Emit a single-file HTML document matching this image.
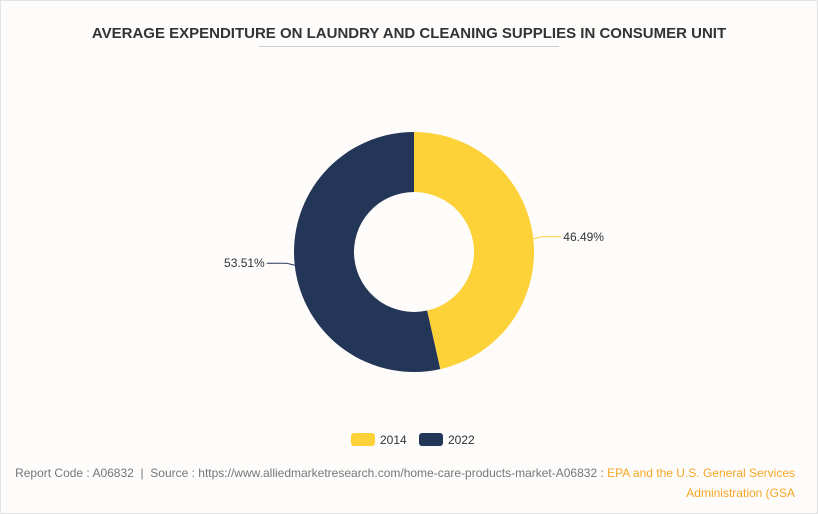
<!DOCTYPE html>
<html><head><meta charset="utf-8"><style>
body{margin:0;background:#fff;}
#wrap{position:relative;width:816px;height:512px;border:1px solid #e3e3e3;background:#fdfcfb;font-family:"Liberation Sans",sans-serif;overflow:hidden}
#title{position:absolute;top:24px;left:0;width:816px;text-align:center;font-size:15px;font-weight:bold;color:#333}
#rule{position:absolute;top:45px;left:258px;width:300px;height:1px;background:#ccc}
#foot{position:absolute;right:22px;top:462px;text-align:right;font-size:12px;color:#777;line-height:20px}
#foot span{color:#f5a623}
</style></head><body>
<div id="wrap">
<div id="title">AVERAGE EXPENDITURE ON LAUNDRY AND CLEANING SUPPLIES IN CONSUMER UNIT</div>
<div id="rule"></div>
<svg id="chart" width="816" height="460" style="position:absolute;left:0;top:0"></svg>
<div id="foot">Report Code : A06832 &nbsp;|&nbsp; Source : https://www.alliedmarketresearch.com/home-care-products-market-A06832 : <span>EPA and the U.S. General Services</span><br><span>Administration (GSA</span></div>
</div>
<script>
const categories=["2014","2022"];
const values=[46.49,53.51];
const colors=["#fdd238","#243658"];
const svg=document.getElementById('chart');
const NS="http://www.w3.org/2000/svg";
const cx=413,cy=251,R=120,r=60;
const total=values.reduce((a,b)=>a+b,0);
function pt(a,rad){return [cx+rad*Math.sin(a),cy-rad*Math.cos(a)];}
let start=0;
values.forEach((v,i)=>{
  const end=start+v/total*2*Math.PI;
  const large=(end-start)>Math.PI?1:0;
  const [x1,y1]=pt(start,R),[x2,y2]=pt(end,R),[x3,y3]=pt(end,r),[x4,y4]=pt(start,r);
  const p=document.createElementNS(NS,'path');
  p.setAttribute('d',`M${x1},${y1}A${R},${R} 0 ${large} 1 ${x2},${y2}L${x3},${y3}A${r},${r} 0 ${large} 0 ${x4},${y4}Z`);
  p.setAttribute('fill',colors[i]);
  
  
  svg.appendChild(p);
  const mid=(start+end)/2;
  const [ax,ay]=pt(mid,R);
  const right=Math.sin(mid)>=0;
  const bx=ax+(right?8:-8), by=ay-2, ex=bx+(right?20:-20);
  const l=document.createElementNS(NS,'polyline');
  l.setAttribute('points',`${ax},${ay} ${bx},${by} ${ex},${by}`);
  l.setAttribute('fill','none');l.setAttribute('stroke',colors[i]);
  
  
  svg.appendChild(l);
  const t=document.createElementNS(NS,'text');
  t.setAttribute('x',ex+(right?2:-2));t.setAttribute('y',by+4);
  t.setAttribute('text-anchor',right?'start':'end');
  t.setAttribute('font-size','12');t.setAttribute('fill','#333');
  t.setAttribute('font-family','Liberation Sans, sans-serif');
  t.textContent=v.toFixed(2)+'%';
  
  
  svg.appendChild(t);
  start=end;
});
let lx=350;
categories.forEach((c,i)=>{
  const g=document.createElementNS(NS,'g');
  
  
  const rc=document.createElementNS(NS,'rect');
  rc.setAttribute('x',lx);rc.setAttribute('y',432);rc.setAttribute('width',24);rc.setAttribute('height',13);
  rc.setAttribute('rx',3);rc.setAttribute('fill',colors[i]);
  g.appendChild(rc);
  const t=document.createElementNS(NS,'text');
  t.setAttribute('x',lx+29);t.setAttribute('y',443);t.setAttribute('font-size','12');
  t.setAttribute('fill','#333');t.setAttribute('font-family','Liberation Sans, sans-serif');
  t.textContent=c;
  g.appendChild(t);
  svg.appendChild(g);
  lx+=68;
});
</script>
</body></html>
